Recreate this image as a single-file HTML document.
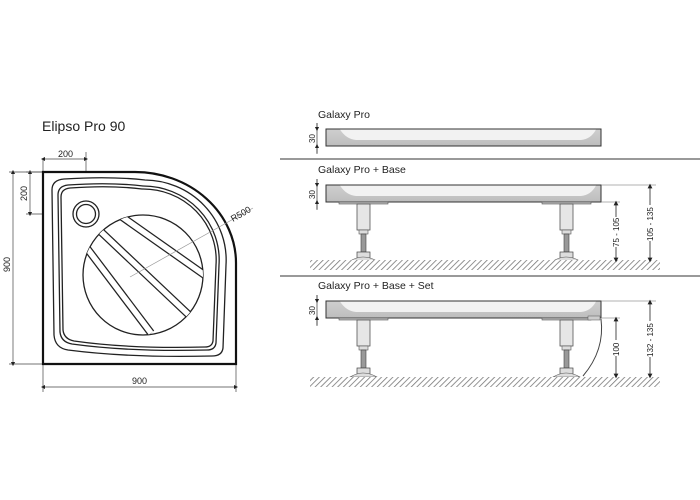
<!DOCTYPE html>
<html><head><meta charset="utf-8"><style>
html,body{margin:0;padding:0;background:#fff}
svg{display:block}
text{font-family:"Liberation Sans",sans-serif;fill:#222}
</style></head><body>
<svg width="700" height="500" viewBox="0 0 700 500" xmlns="http://www.w3.org/2000/svg">
<defs>
<pattern id="h" width="4" height="4" patternUnits="userSpaceOnUse" patternTransform="rotate(45)">
<rect width="4" height="4" fill="#fff"/><line x1="0" y1="0" x2="0" y2="4" stroke="#777" stroke-width="1.6"/></pattern>
<linearGradient id="tg" x1="0" y1="0" x2="0" y2="1"><stop offset="0" stop-color="#cfcfcf"/><stop offset="1" stop-color="#bdbdbd"/></linearGradient>
<clipPath id="cc"><circle cx="143" cy="275" r="60"/></clipPath>
<marker id="a" markerWidth="6" markerHeight="6" refX="3" refY="3" orient="auto-start-reverse"><path d="M0,0 L6,3 L0,6 Z" fill="#222"/></marker>
<g id="tray">
<rect x="0" y="0" width="275" height="17" fill="url(#tg)" stroke="#333" stroke-width="1"/>
<path d="M14,0.5 Q20,10 30,11 H255 Q265,10 270,0.5 Z" fill="#f2f2f2"/>
</g>
<g id="leg">
<rect x="-18" y="0" width="49" height="2" fill="#bbb" stroke="#555" stroke-width="0.6"/>
<rect x="0" y="2" width="13" height="26" fill="#e6e6e6" stroke="#555" stroke-width="0.8"/>
<rect x="2" y="28" width="9" height="4" fill="#ddd" stroke="#555" stroke-width="0.6"/>
<rect x="4" y="32" width="5" height="18" fill="#999" stroke="#444" stroke-width="0.6"/>
<rect x="0" y="50" width="13" height="6" fill="#ddd" stroke="#444" stroke-width="0.7"/>
<path d="M-7,59 Q0,55 6,55 Q13,55 20,59 Z" fill="#ddd" stroke="#555" stroke-width="0.6"/>
</g>
</defs>

<!-- LEFT -->
<text x="42" y="131" font-size="14">Elipso Pro 90</text>
<g stroke="#444" stroke-width="0.7" fill="none">
<line x1="43" y1="159" x2="43" y2="172"/><line x1="86" y1="152" x2="86" y2="214"/>
<line x1="43" y1="159" x2="86" y2="159" marker-start="url(#a)" marker-end="url(#a)"/>
<line x1="26" y1="172" x2="43" y2="172"/><line x1="26" y1="214" x2="86" y2="214"/>
<line x1="30" y1="172" x2="30" y2="214" marker-start="url(#a)" marker-end="url(#a)"/>
<line x1="9" y1="172" x2="43" y2="172"/><line x1="9" y1="364" x2="43" y2="364"/>
<line x1="13" y1="172" x2="13" y2="364" marker-start="url(#a)" marker-end="url(#a)"/>
<line x1="43" y1="364" x2="43" y2="392"/><line x1="236" y1="364" x2="236" y2="392"/>
<line x1="43" y1="387" x2="236" y2="387" marker-start="url(#a)" marker-end="url(#a)"/>
</g>
<text x="58" y="157" font-size="9">200</text>
<text x="0" y="0" font-size="9" transform="translate(27,201) rotate(-90)">200</text>
<text x="0" y="0" font-size="9" transform="translate(10,272) rotate(-90)">900</text>
<text x="132" y="384" font-size="9">900</text>

<path d="M43,172 H135 A101,91 0 0 1 236,263 V364 H43 Z" fill="#fff" stroke="#111" stroke-width="2.2"/>
<g fill="none" stroke="#222" stroke-width="1.3">
<path d="M52,190 Q52,180 64,179 Q110,176 145,180 A82,80 0 0 1 226,265 L223,348 Q222,356 212,356 Q130,358 68,350 Q55,348 54,335 Z"/>
<path d="M58,195 Q58,186 68,185 Q110,182 143,186 A76,74 0 0 1 219,265 L216,343 Q215,350 207,350 Q130,352 72,344 Q61,342 60,332 Z"/>
<path d="M61,197 Q61,189 70,188 Q110,185 142,189 A73,71 0 0 1 216,265 L213,341 Q212,347 205,347 Q130,349 74,341 Q64,339 63,330 Z"/>
</g>
<circle cx="86" cy="214" r="13" fill="#fff" stroke="#222" stroke-width="1.3"/>
<circle cx="86" cy="214" r="9.5" fill="#fff" stroke="#222" stroke-width="1.3"/>
<circle cx="143" cy="275" r="60" fill="#fff" stroke="#222" stroke-width="1.3"/>
<g clip-path="url(#cc)" stroke-linecap="butt">
<line x1="118" y1="214" x2="206" y2="276" stroke="#222" stroke-width="8"/>
<line x1="118" y1="214" x2="206" y2="276" stroke="#fff" stroke-width="5.5"/>
<line x1="98" y1="229" x2="189" y2="315" stroke="#222" stroke-width="8"/>
<line x1="98" y1="229" x2="189" y2="315" stroke="#fff" stroke-width="5.5"/>
<line x1="86" y1="247" x2="151" y2="333" stroke="#222" stroke-width="8"/>
<line x1="86" y1="247" x2="151" y2="333" stroke="#fff" stroke-width="5.5"/>
</g>
<line x1="130" y1="277" x2="253" y2="208" stroke="#999" stroke-width="0.7"/>
<text x="0" y="0" font-size="9" transform="translate(233,222) rotate(-30)">R500</text>

<!-- RIGHT -->
<line x1="280" y1="159" x2="700" y2="159" stroke="#999" stroke-width="2"/>
<line x1="280" y1="276" x2="700" y2="276" stroke="#999" stroke-width="2"/>

<text x="318" y="118" font-size="10.5">Galaxy Pro</text>
<use href="#tray" x="326" y="129"/>
<text x="318" y="173" font-size="10.5">Galaxy Pro + Base</text>
<use href="#tray" x="326" y="185"/>
<text x="318" y="289" font-size="10.5">Galaxy Pro + Base + Set</text>
<use href="#tray" x="326" y="301"/>

<g stroke="#333" stroke-width="0.7" fill="none">
<line x1="317" y1="123" x2="317" y2="154"/>
<line x1="317" y1="123" x2="317" y2="129" marker-end="url(#a)"/>
<line x1="317" y1="153" x2="317" y2="146" marker-end="url(#a)"/>
<line x1="317" y1="179" x2="317" y2="210"/>
<line x1="317" y1="179" x2="317" y2="185" marker-end="url(#a)"/>
<line x1="317" y1="209" x2="317" y2="202" marker-end="url(#a)"/>
<line x1="317" y1="295" x2="317" y2="326"/>
<line x1="317" y1="295" x2="317" y2="301" marker-end="url(#a)"/>
<line x1="317" y1="325" x2="317" y2="318" marker-end="url(#a)"/>
</g>
<text x="0" y="0" font-size="8" transform="translate(315,143) rotate(-90)">30</text>
<text x="0" y="0" font-size="8" transform="translate(315,199) rotate(-90)">30</text>
<text x="0" y="0" font-size="8" transform="translate(315,315) rotate(-90)">30</text>

<use href="#leg" x="357" y="202"/>
<use href="#leg" x="560" y="202"/>
<use href="#leg" x="357" y="318"/>
<use href="#leg" x="560" y="318"/>

<rect x="310" y="260" width="350" height="10" fill="url(#h)"/>
<rect x="310" y="377" width="350" height="10" fill="url(#h)"/>

<path d="M601,319 Q605,350 583,376" fill="none" stroke="#444" stroke-width="1"/>
<rect x="588" y="316" width="12" height="4" fill="#ccc" stroke="#555" stroke-width="0.5"/>

<g stroke="#666" stroke-width="0.6">
<line x1="601" y1="185" x2="656" y2="185"/><line x1="601" y1="202" x2="620" y2="202"/>
<line x1="601" y1="301" x2="656" y2="301"/><line x1="601" y1="318" x2="620" y2="318"/>
</g>
<g stroke="#222" stroke-width="0.8">
<line x1="616" y1="203" x2="616" y2="260" marker-start="url(#a)" marker-end="url(#a)"/>
<line x1="650" y1="186" x2="650" y2="260" marker-start="url(#a)" marker-end="url(#a)"/>
<line x1="616" y1="319" x2="616" y2="376" marker-start="url(#a)" marker-end="url(#a)"/>
<line x1="650" y1="302" x2="650" y2="376" marker-start="url(#a)" marker-end="url(#a)"/>
</g>
<rect x="609" y="217" width="10" height="30" fill="#fff"/>
<rect x="643" y="205" width="10" height="36" fill="#fff"/>
<rect x="609" y="340" width="10" height="16" fill="#fff"/>
<rect x="643" y="321" width="10" height="36" fill="#fff"/>
<text x="0" y="0" font-size="8" transform="translate(619,247) rotate(-90)">75 - 105</text>
<text x="0" y="0" font-size="8" transform="translate(653,241) rotate(-90)">105 - 135</text>
<text x="0" y="0" font-size="8" transform="translate(619,356) rotate(-90)">100</text>
<text x="0" y="0" font-size="8" transform="translate(653,357) rotate(-90)">132 - 135</text>
</svg>
</body></html>
